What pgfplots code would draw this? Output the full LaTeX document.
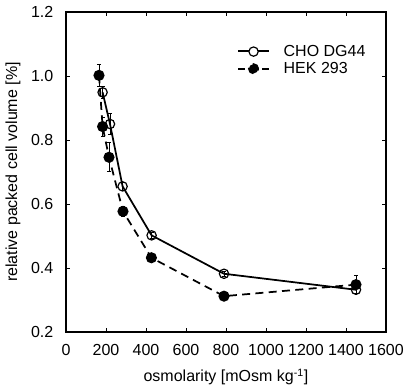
\documentclass[border=0pt]{standalone}
\usepackage{pgfplots}
\pgfplotsset{compat=1.18}
\usepackage{fontspec}
\setmainfont{Liberation Sans}
\begin{document}
\begin{tikzpicture}
\begin{axis}[
  scale only axis, width=240pt, height=240pt,
  xmin=0, xmax=1600, ymin=0.2, ymax=1.2,
  xtick={0,200,...,1600}, ytick={0.2,0.4,...,1.2},
  tick align=inside, tick pos=both, major tick length=3pt,
  axis line style={line width=0.8pt}, tick style={line width=0.6pt, black},
  font=\fontsize{12}{14}\selectfont,
  /pgf/number format/assume math mode=true,
  xticklabel style={/pgf/number format/1000 sep={}, anchor=center, yshift=-13.5pt},
  yticklabel style={/pgf/number format/fixed, /pgf/number format/fixed zerofill, /pgf/number format/precision=1, anchor=east, xshift=-6pt},
  xlabel={osmolarity [mOsm kg\textsuperscript{-1}]},
  ylabel={relative packed cell volume [\%]},
  xlabel style={at={(axis description cs:0.5,-0.1406)}, anchor=center},
  ylabel style={at={(axis description cs:-0.1656,0.5)}, anchor=center},
  legend style={draw=none, fill=none, at={(0.535,0.906)}, anchor=north west, font=\fontsize{12}{14}\selectfont, row sep=-1pt, inner sep=0pt, nodes={inner xsep=6pt, inner ysep=2pt}, /tikz/every odd column/.append style={column sep=4.5pt}},
  legend cell align=left,
]
\addplot[black, line width=1.3pt, mark=o, mark size=3.5pt, mark options={solid, fill=white, line width=0.9pt},
  legend image code/.code={\draw[line width=1.4pt,solid] (0cm,0.2pt) -- (0.8cm,0.2pt); \draw[line width=0.9pt, fill=white] (0.4cm,0cm) circle (3.5pt);},
  error bars/.cd, y dir=both, y explicit, error bar style={line width=0.6pt, solid}, error mark options={rotate=90, mark size=1.5pt, line width=0.6pt}]
  coordinates {
  (183,0.949) +- (0,0.02)
  (220,0.850) +- (0,0.033)
  (283,0.655) +- (0,0.012)
  (428,0.502) +- (0,0.008)
  (790,0.382) +- (0,0.008)
  (1450,0.332) +- (0,0.012)
  };
\addlegendentry{CHO DG44}
\addplot[black, line width=1.3pt, dash pattern=on 6pt off 4pt, mark=*, mark size=3.5pt, mark options={solid, fill=black},
  legend image code/.code={\draw[line width=1.3pt, dash pattern=on 5pt off 4pt] (0cm,0cm) -- (0.8cm,0cm); \fill (0.4cm,0cm) circle (3.5pt);},
  error bars/.cd, y dir=both, y explicit, error bar style={line width=0.6pt, solid}, error mark options={rotate=90, mark size=1.5pt, line width=0.6pt}]
  coordinates {
  (165,1.002) +- (0,0.035)
  (183,0.842) +- (0,0.03)
  (215,0.746) +- (0,0.045)
  (285,0.577) +- (0,0.015)
  (427,0.432) +- (0,0.008)
  (790,0.312) +- (0,0.008)
  (1450,0.348) +- (0,0.028)
  };
\addlegendentry{HEK 293}
\end{axis}
\pgfresetboundingbox
\useasboundingbox (-49.5pt,-40.5pt) rectangle (254.25pt,249pt);
\end{tikzpicture}
\end{document}
